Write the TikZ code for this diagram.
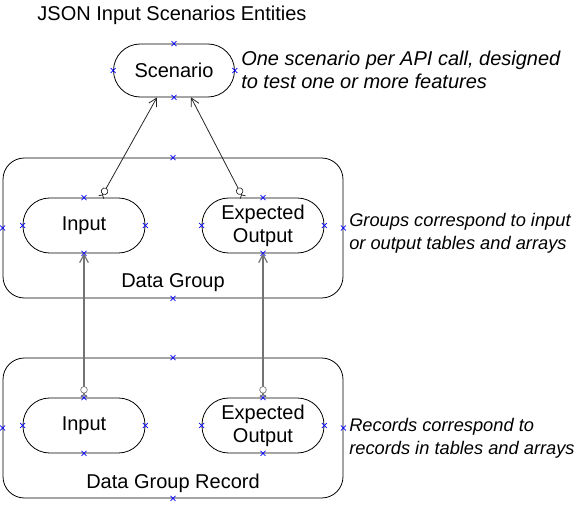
\documentclass[tikz,border=0pt]{standalone}
\usepackage{fontspec}
\setmainfont{Liberation Sans}
\usetikzlibrary{arrows.meta,calc}

\begin{document}
\begin{tikzpicture}[x=0.75pt,y=-0.75pt,
    every node/.style={font=\fontsize{15}{17.5}\selectfont},
    entity/.style={draw, line width=0.6pt, rounded corners=20pt, minimum width=91.5pt, minimum height=41.25pt, align=center, inner sep=0pt},
    groupbox/.style={draw, line width=0.6pt, rounded corners=16pt, minimum width=255pt, minimum height=105pt, inner sep=0pt},
    note/.style={anchor=west, align=left, inner sep=0pt, font=\fontsize{13.7}{17.25}\selectfont\itshape},
    cpt/.style={blue, line width=0.5pt},
    link/.style={line width=0.6pt, black!85, {Straight Barb[reversed,length=2pt,width=4.5pt]Circle[open,length=5.5pt,width=5.5pt,line width=0.5pt,fill=white]}-{Straight Barb[length=6pt,width=6.5pt]}},
    vlink/.style={link, line width=0.9pt, black!55}]
  \useasboundingbox (0,0) rectangle (578,506);

  % Title
  \node (title) at (172,15) {JSON Input Scenarios Entities};

  % Scenario
  \node[entity, minimum width=90.75pt, minimum height=39.75pt] (sc) at (174,70.5) {Scenario};
  \node[note, font=\fontsize{15}{17.25}\selectfont\itshape] (scnote) at (241,69.5) {One scenario per API call, designed\\to test one or more features};

  % Data group and its two members
  \node[groupbox] (grp) at (173,228) {};
  \node[entity] (gin) at (84,225.5) {Input};
  \node[entity] (gout) at (263,225.5) {Expected\\Output};
  \node (grplabel) at (173,283) {Data Group};
  \node[note] (grpnote) at (349,233.5) {Groups correspond to input\\or output tables and arrays};

  % Data group record and its two members
  \node[groupbox] (rec) at (173,428) {};
  \node[entity] (rin) at (84,425.5) {Input};
  \node[entity] (rout) at (263,425.5) {Expected\\Output};
  \node (reclabel) at (173,483) {Data Group Record};
  \node[note] (recnote) at (349,438.5) {Records correspond to\\records in tables and arrays};

  % Connection points
  \foreach \n in {sc,grp,gin,gout,rec,rin,rout}
    \foreach \a in {north,south,east,west}
      \draw[cpt] (\n.\a) +(-2.5,-2.5) -- +(2.5,2.5) +(-2.5,2.5) -- +(2.5,-2.5);

  % Links to scenario
  \draw[link] ($(gin.north)+(17,0)$) -- ($(sc.south)+(-17,0)$);
  \draw[link] ($(gout.north)+(-20,0)$) -- ($(sc.south)+(17,0)$);

  % Links from records to groups
  \draw[vlink] (rin.north) -- (gin.south);
  \draw[vlink] (rout.north) -- (gout.south);
\end{tikzpicture}
\end{document}
